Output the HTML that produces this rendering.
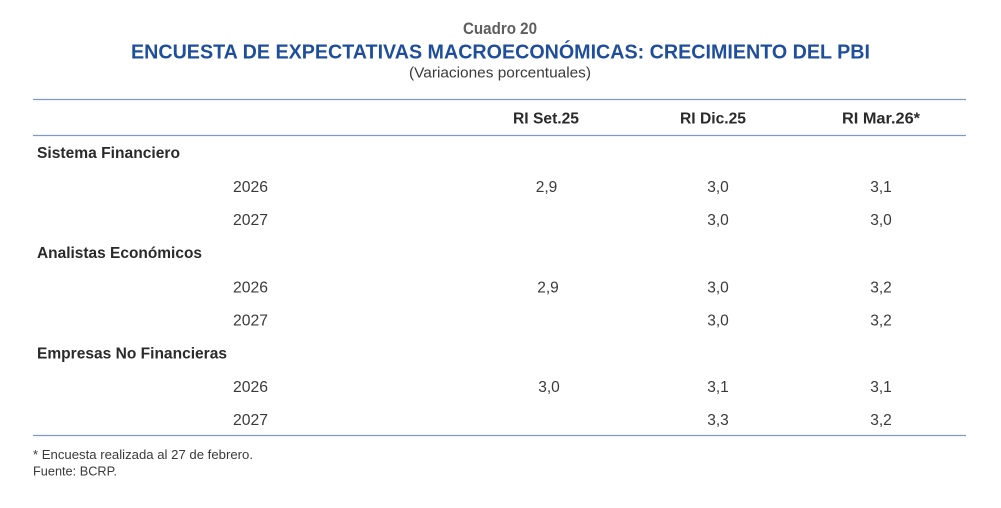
<!DOCTYPE html>
<html>
<head>
<meta charset="utf-8">
<style>
  html, body { margin: 0; padding: 0; background: #ffffff; }
  svg { display: block; }
  text { font-family: "Liberation Sans", "DejaVu Sans", sans-serif; }
</style>
</head>
<body>
<svg width="1001" height="508" viewBox="0 0 1001 508" xmlns="http://www.w3.org/2000/svg">
  <rect x="0" y="0" width="1001" height="508" fill="#ffffff"/>

  <!-- Headings -->
  <text x="463" y="34" font-size="16.5" font-weight="bold" fill="#5e5e5e" textLength="74" lengthAdjust="spacingAndGlyphs">Cuadro 20</text>
  <text x="131" y="58.5" font-size="20" font-weight="bold" fill="#1f4f9c" textLength="739" lengthAdjust="spacingAndGlyphs">ENCUESTA DE EXPECTATIVAS MACROECONÓMICAS: CRECIMIENTO DEL PBI</text>
  <text x="409" y="77.5" font-size="15" fill="#3a3a3a" textLength="182" lengthAdjust="spacingAndGlyphs">(Variaciones porcentuales)</text>

  <!-- Rules -->
  <line x1="33" y1="99.5" x2="966" y2="99.5" stroke="#7f98c9" stroke-width="1.2"/>
  <line x1="33" y1="135.5" x2="966" y2="135.5" stroke="#7f98c9" stroke-width="1.2"/>
  <line x1="33" y1="435.5" x2="966" y2="435.5" stroke="#7f98c9" stroke-width="1.2"/>

  <!-- Column headers -->
  <g font-size="15.5" font-weight="bold" fill="#2a2a2a">
    <text x="513" y="123.5" textLength="66" lengthAdjust="spacingAndGlyphs">RI Set.25</text>
    <text x="680" y="123.5" textLength="66" lengthAdjust="spacingAndGlyphs">RI Dic.25</text>
    <text x="842" y="123.5" textLength="78" lengthAdjust="spacingAndGlyphs">RI Mar.26*</text>
  </g>

  <!-- Group labels -->
  <g font-size="15.5" font-weight="bold" fill="#2a2a2a">
    <text x="37" y="158" textLength="143" lengthAdjust="spacingAndGlyphs">Sistema Financiero</text>
    <text x="37" y="258" textLength="165" lengthAdjust="spacingAndGlyphs">Analistas Económicos</text>
    <text x="37" y="358.5" textLength="190" lengthAdjust="spacingAndGlyphs">Empresas No Financieras</text>
  </g>

  <!-- Years -->
  <g font-size="15.5" fill="#3a3a3a">
    <text x="233" y="192" textLength="35" lengthAdjust="spacingAndGlyphs">2026</text>
    <text x="233" y="225" textLength="35" lengthAdjust="spacingAndGlyphs">2027</text>
    <text x="233" y="292.5" textLength="35" lengthAdjust="spacingAndGlyphs">2026</text>
    <text x="233" y="325.5" textLength="35" lengthAdjust="spacingAndGlyphs">2027</text>
    <text x="233" y="392" textLength="35" lengthAdjust="spacingAndGlyphs">2026</text>
    <text x="233" y="425" textLength="35" lengthAdjust="spacingAndGlyphs">2027</text>
  </g>

  <!-- Values -->
  <g font-size="15.5" fill="#3a3a3a" text-anchor="middle">
    <text x="546.5" y="192">2,9</text>
    <text x="718" y="192">3,0</text>
    <text x="881" y="192">3,1</text>
    <text x="718" y="225">3,0</text>
    <text x="881" y="225">3,0</text>
    <text x="548" y="292.5">2,9</text>
    <text x="718" y="292.5">3,0</text>
    <text x="881" y="292.5">3,2</text>
    <text x="718" y="325.5">3,0</text>
    <text x="881" y="325.5">3,2</text>
    <text x="549" y="392">3,0</text>
    <text x="718" y="392">3,1</text>
    <text x="881" y="392">3,1</text>
    <text x="718" y="425">3,3</text>
    <text x="881" y="425">3,2</text>
  </g>

  <!-- Footnotes -->
  <g font-size="13" fill="#3a3a3a">
    <text x="33" y="459" textLength="220" lengthAdjust="spacingAndGlyphs">* Encuesta realizada al 27 de febrero.</text>
    <text x="33" y="475.5" textLength="84" lengthAdjust="spacingAndGlyphs">Fuente: BCRP.</text>
  </g>
</svg>
</body>
</html>
